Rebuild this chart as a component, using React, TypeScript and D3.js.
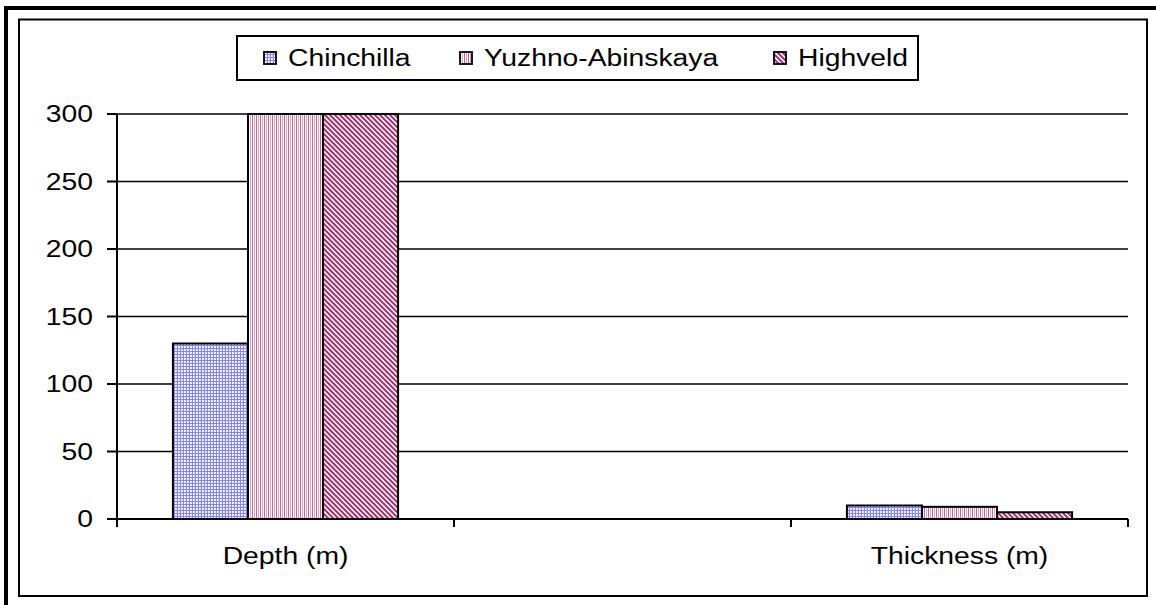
import React from "react";
import * as d3 from "d3";

// Categories along the x axis (the middle slot is an unlabeled, empty group)
const categories = ["Depth (m)", "", "Thickness (m)"];
const seriesNames = ["Chinchilla", "Yuzhno-Abinskaya", "Highveld"];
// Values per series, indexed like `categories`
const chinchilla = [130, null, 10];
const yuzhnoAbinskaya = [300, null, 9];
const highveld = [300, null, 5];
const yTicks = [0, 50, 100, 150, 200, 250, 300];

const seriesValues = [chinchilla, yuzhnoAbinskaya, highveld];
const patternIds = ["pat-grid", "pat-vert", "pat-diag"];

const W = 1156;
const H = 605;
const plot = { left: 117, right: 1128, top: 114, bottom: 519 };
const FONT = "'Liberation Sans', Arial, sans-serif";
const FS = 23;
const SX = 1.23;

function StretchText({ x, y, anchor, children }: { x: number; y: number; anchor: string; children: React.ReactNode }) {
  return (
    <text
      transform={`translate(${x},${y}) scale(${SX},1)`}
      textAnchor={anchor}
      fontFamily={FONT}
      fontSize={FS}
      fill="#000"
    >
      {children}
    </text>
  );
}

export default function App() {
  const x0 = d3.scaleBand<string>().domain(categories.map((c, i) => String(i))).range([plot.left, plot.right]).padding(0);
  const x1 = d3
    .scaleBand<string>()
    .domain(seriesNames)
    .range([0, x0.bandwidth()])
    .paddingInner(0)
    .paddingOuter(0.745);
  const y = d3.scaleLinear().domain([0, 300]).range([plot.bottom, plot.top]);

  const legendItems = [
    { swatch: 264, text: 288 },
    { swatch: 460, text: 484 },
    { swatch: 774, text: 798 },
  ];

  const boundaries = d3.range(categories.length + 1).map((i) => plot.left + i * x0.step());

  return (
    <svg width={W} height={H} style={{ position: "absolute", left: 0, top: 0, background: "#fff" }}>
      <defs>
        <pattern id="pat-grid" patternUnits="userSpaceOnUse" width={3} height={3}>
          <rect width={3} height={3} fill="#fff" />
          <rect x={0} y={0} width={1} height={3} fill="#8484ff" />
          <rect x={0} y={0} width={3} height={1} fill="#8484ff" />
          <rect x={2} y={1} width={1} height={2} fill="#e6e6ff" />
        </pattern>
        <pattern id="pat-vert" patternUnits="userSpaceOnUse" width={4} height={4}>
          <rect width={4} height={4} fill="#fff" />
          <rect x={0} y={0} width={1} height={4} fill="#bf6994" />
          <rect x={2} y={0} width={1} height={4} fill="#dca6c2" />
        </pattern>
        <pattern id="pat-diag" patternUnits="userSpaceOnUse" width={5} height={5}>
          <rect width={5} height={5} fill="#fff" />
          <path d="M-1,-1 L6,6 M-1,4 L1,6 M4,-1 L6,1" stroke="#a3356f" strokeWidth={2} />
        </pattern>
        <clipPath id="plot-clip">
          <rect x={plot.left} y={plot.top - 1} width={plot.right - plot.left} height={plot.bottom - plot.top + 1} />
        </clipPath>
      </defs>

      {/* frame */}
      <rect x={4} y={6} width={W - 4} height={4} fill="#000" />
      <rect x={4} y={6} width={4} height={H - 6} fill="#000" />
      <rect x={19} y={19.5} width={1128} height={576.5} fill="none" stroke="#000" strokeWidth={2} />

      {/* legend */}
      <rect x={237} y={36} width={681} height={44} fill="#fff" stroke="#000" strokeWidth={2} />
      {seriesNames.map((name, i) => (
        <g key={name}>
          <rect
            x={legendItems[i].swatch}
            y={52}
            width={12}
            height={12}
            fill={`url(#${patternIds[i]})`}
            stroke="#000"
            strokeWidth={1.8}
          />
          <StretchText x={legendItems[i].text} y={66} anchor="start">
            {name}
          </StretchText>
        </g>
      ))}

      {/* gridlines */}
      {yTicks.map((t) => (
        <line key={t} x1={plot.left} x2={plot.right} y1={y(t)} y2={y(t)} stroke="#000" strokeWidth={1.5} />
      ))}

      {/* bars */}
      <g clipPath="url(#plot-clip)">
        {categories.map((c, ci) =>
          seriesNames.map((s, si) => {
            const v = seriesValues[si][ci];
            if (v == null) return null;
            const bx = (x0(String(ci)) ?? 0) + (x1(s) ?? 0);
            return (
              <rect
                key={`${ci}-${s}`}
                x={bx}
                y={y(v)}
                width={x1.bandwidth()}
                height={y(0) - y(v)}
                fill={`url(#${patternIds[si]})`}
                stroke="#000"
                strokeWidth={2}
              />
            );
          })
        )}
      </g>

      {/* axes */}
      <line x1={plot.left} x2={plot.left} y1={plot.top} y2={plot.bottom + 8} stroke="#000" strokeWidth={2} />
      <line x1={plot.left} x2={plot.right} y1={plot.bottom} y2={plot.bottom} stroke="#000" strokeWidth={2} />
      {boundaries.map((bx, i) => (
        <line key={i} x1={bx} x2={bx} y1={plot.bottom} y2={plot.bottom + 8} stroke="#000" strokeWidth={2} />
      ))}
      {yTicks.map((t) => (
        <g key={t}>
          <line x1={plot.left - 10} x2={plot.left} y1={y(t)} y2={y(t)} stroke="#000" strokeWidth={2} />
          <StretchText x={93} y={y(t) + 8} anchor="end">
            {t}
          </StretchText>
        </g>
      ))}
      {categories.map((c, ci) =>
        c ? (
          <StretchText key={c} x={(x0(String(ci)) ?? 0) + x0.bandwidth() / 2} y={564} anchor="middle">
            {c}
          </StretchText>
        ) : null
      )}
    </svg>
  );
}
